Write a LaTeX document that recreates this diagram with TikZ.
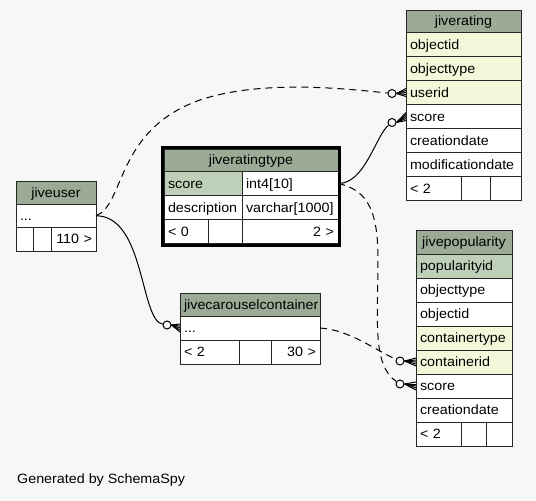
\documentclass[tikz,border=0pt]{standalone}
\usepackage{fontspec}
\setmainfont{Liberation Sans}[FakeStretch=1.06]
\usetikzlibrary{fit}

\definecolor{hdrgreen}{HTML}{9BAB96}
\definecolor{keygreen}{HTML}{BED1B8}
\definecolor{idxyellow}{HTML}{F4F7DA}
\definecolor{pagebg}{HTML}{F7F7F7}
\newcommand{\tabfont}{\fontsize{13.5}{16}\selectfont}

\begin{document}
\begin{tikzpicture}[x=1pt,y=-1pt]
\tikzstyle{cell} = [draw=black!85, line width=1pt, fill=white, anchor=north west, outer sep=0pt, inner xsep=4pt, inner ysep=0pt, minimum height=24pt, text height=11pt, text depth=2pt, align=left, font=\tabfont]
\tikzstyle{hdcell} = [cell, fill=hdrgreen, align=center, minimum height=22.5pt]
\tikzstyle{pkcell} = [cell, fill=keygreen]
\tikzstyle{idxcell} = [cell, fill=idxyellow]
\tikzstyle{numcell} = [cell, align=right]
\tikzstyle{odot} = [circle, draw, fill=pagebg, line width=1pt, minimum size=8pt, inner sep=0pt]
\tikzstyle{rel} = [line width=1pt]
\tikzstyle{opt} = [rel, dash pattern=on 7pt off 5pt]

\useasboundingbox[fill=pagebg] (0,0) rectangle (536,501);

% jiverating
\node[hdcell, text width=107pt] (rating) at (406,10) {jiverating};
\node[idxcell, text width=107pt] (rating-objectid) at (rating.south west) {objectid};
\node[idxcell, text width=107pt] (rating-objecttype) at (rating-objectid.south west) {objecttype};
\node[idxcell, text width=107pt] (rating-userid) at (rating-objecttype.south west) {userid};
\node[cell, text width=107pt] (rating-score) at (rating-userid.south west) {score};
\node[cell, text width=107pt] (rating-created) at (rating-score.south west) {creationdate};
\node[cell, text width=107pt] (rating-modified) at (rating-created.south west) {modificationdate};
\node[cell, text width=47pt] (rating-f1) at (rating-modified.south west) {< 2};
\node[cell, text width=21pt] (rating-f2) at (rating-f1.north east) {};
\node[cell, text width=23pt] (rating-f3) at (rating-f2.north east) {};

% jiveratingtype
\node[hdcell, text width=166pt] (ratingtype) at (164,149) {jiveratingtype};
\node[pkcell, text width=70pt] (ratingtype-score) at (ratingtype.south west) {score};
\node[cell, text width=88pt] (ratingtype-scoretype) at (ratingtype-score.north east) {int4[10]};
\node[cell, text width=70pt] (ratingtype-desc) at (ratingtype-score.south west) {description};
\node[cell, text width=88pt] (ratingtype-desctype) at (ratingtype-desc.north east) {varchar[1000]};
\node[cell, text width=36pt] (ratingtype-f1) at (ratingtype-desc.south west) {< 0};
\node[cell, text width=26pt] (ratingtype-f2) at (ratingtype-f1.north east) {};
\node[numcell, text width=88pt] (ratingtype-f3) at (ratingtype-f2.north east) {2 >};

% jiveuser
\node[hdcell, text width=72pt] (user) at (16,181.5) {jiveuser};
\node[cell, text width=72pt, minimum height=23.5pt] (user-etc) at (user.south west) {...};
\node[cell, text width=9pt, minimum height=23.5pt] (user-f1) at (user-etc.south west) {};
\node[cell, text width=10pt, minimum height=23.5pt] (user-f2) at (user-f1.north east) {};
\node[numcell, text width=37pt, minimum height=23.5pt] (user-f3) at (user-f2.north east) {110 >};

% jivecarouselcontainer
\node[hdcell, text width=132pt] (carousel) at (180,293.5) {jivecarouselcontainer};
\node[cell, text width=132pt] (carousel-etc) at (carousel.south west) {...};
\node[cell, text width=51pt] (carousel-f1) at (carousel-etc.south west) {< 2};
\node[cell, text width=24pt] (carousel-f2) at (carousel-f1.north east) {};
\node[numcell, text width=41pt] (carousel-f3) at (carousel-f2.north east) {30 >};

% jivepopularity
\node[hdcell, text width=88pt, minimum height=24pt] (popularity) at (416,230) {jivepopularity};
\node[pkcell, text width=88pt] (popularity-id) at (popularity.south west) {popularityid};
\node[cell, text width=88pt] (popularity-objecttype) at (popularity-id.south west) {objecttype};
\node[cell, text width=88pt] (popularity-objectid) at (popularity-objecttype.south west) {objectid};
\node[idxcell, text width=88pt] (popularity-containertype) at (popularity-objectid.south west) {containertype};
\node[idxcell, text width=88pt] (popularity-containerid) at (popularity-containertype.south west) {containerid};
\node[cell, text width=88pt] (popularity-score) at (popularity-containerid.south west) {score};
\node[cell, text width=88pt] (popularity-created) at (popularity-score.south west) {creationdate};
\node[cell, text width=37pt] (popularity-f1) at (popularity-created.south west) {< 2};
\node[cell, text width=17pt] (popularity-f2) at (popularity-f1.north east) {};
\node[cell, text width=18pt] (popularity-f3) at (popularity-f2.north east) {};

% relationships
\node[odot] (o-user) at (392,93.5) {};
\node[odot] (o-score) at (392,122.5) {};
\node[odot] (o-carousel) at (167,325) {};
\node[odot] (o-container) at (400,361) {};
\node[odot] (o-popscore) at (400,384) {};

\draw[opt] (user-etc.east) .. controls (125,205) and (115,130) .. (200,100) .. controls (260,80) and (340,88) .. (o-user);
\draw[rel] (user-etc.east) .. controls (145,216) and (140,320) .. (o-carousel);
\draw[rel] (ratingtype-scoretype.east) .. controls (365,184) and (376,135) .. (o-score);
\draw[opt] (ratingtype-scoretype.east) .. controls (370,190) and (378,215) .. (378,260) .. controls (378,320) and (372,365) .. (o-popscore);
\draw[opt] (carousel-etc.east) .. controls (350,330) and (375,350) .. (o-container);

\foreach \o/\t in {o-user/rating-userid, o-score/rating-score, o-carousel/carousel-etc, o-container/popularity-containerid, o-popscore/popularity-score}
  \foreach \s in {-4,-2,0,2,4}
    \draw[rel] (\o.east) -- ([yshift=\s pt]\t.west);

\node[draw=black, line width=3pt, inner sep=1.5pt, fit=(ratingtype)(ratingtype-f3)] (ratingtype-box) {};

\node[anchor=base west, inner sep=0pt, font=\tabfont] (credit) at (17,483) {Generated by SchemaSpy};

\end{tikzpicture}
\end{document}
